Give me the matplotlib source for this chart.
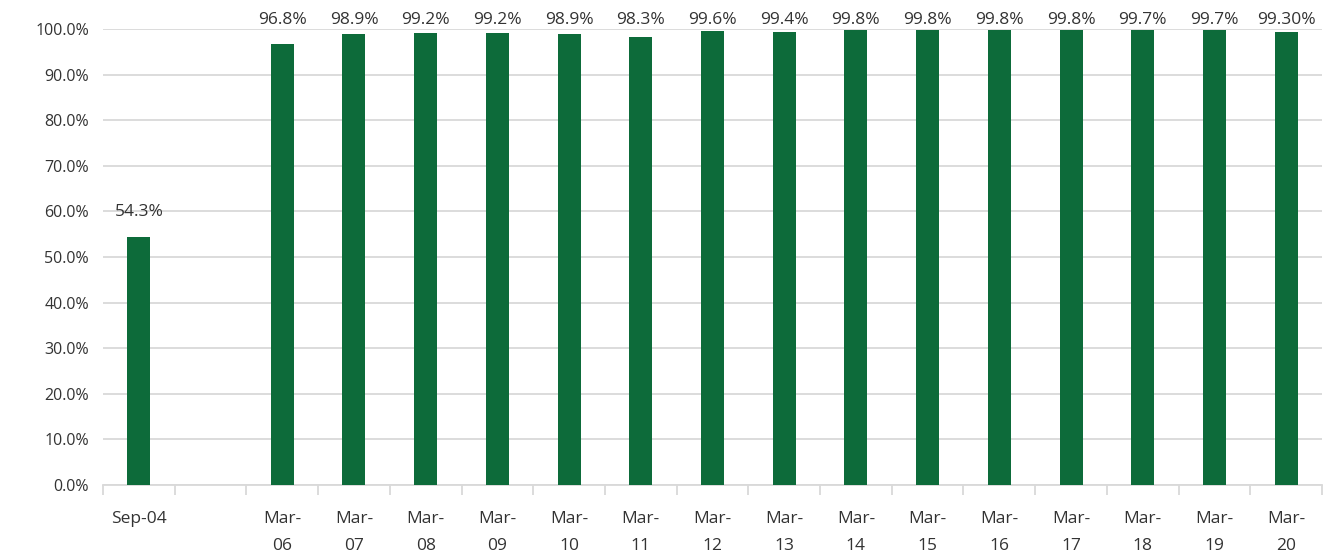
import numpy as np
from matplotlib import pyplot as plt

categories = ['Sep-04', '', 'Mar-\n06', 'Mar-\n07', 'Mar-\n08', 'Mar-\n09', 'Mar-\n10',
              'Mar-\n11', 'Mar-\n12', 'Mar-\n13', 'Mar-\n14', 'Mar-\n15', 'Mar-\n16',
              'Mar-\n17', 'Mar-\n18', 'Mar-\n19', 'Mar-\n20']
values = [54.3, None, 96.8, 98.9, 99.2, 99.2, 98.9, 98.3, 99.6, 99.4, 99.8, 99.8,
          99.8, 99.8, 99.7, 99.7, 99.30]
labels = ['54.3%', '', '96.8%', '98.9%', '99.2%', '99.2%', '98.9%', '98.3%', '99.6%',
          '99.4%', '99.8%', '99.8%', '99.8%', '99.8%', '99.7%', '99.7%', '99.30%']

plt.rcParams['font.family'] = ['Open Sans', 'DejaVu Sans']
txt = '#333333'

fig = plt.figure(figsize=(13.23, 5.53), dpi=100)
ax = fig.add_axes([103/1323, 1-485/553, (1322-103)/1323, (485-29)/553])

x = np.arange(len(categories))
h = [v if v is not None else 0 for v in values]
bars = ax.bar(x, h, width=0.32, color='#0d6b3a', zorder=3)

# value labels above the bars, kept from running off the top of the chart
for xi, v, lab in zip(x, values, labels):
    if v is None:
        continue
    ax.text(xi, min(v + 5.5, 102), lab, ha='center', va='center',
            fontsize=12.5, color=txt, clip_on=False, zorder=4)

ax.set_xlim(-0.5, len(categories) - 0.5)
ax.set_ylim(0, 100)
ax.set_yticks(np.arange(0, 101, 10))
ax.set_yticklabels([f'{t:.1f}%' for t in range(0, 101, 10)], fontsize=11.5, color=txt)
ax.grid(axis='y', color='#d9d9d9', linewidth=1.3, zorder=0)

# category labels centred under bars, tick marks sit between categories
ax.set_xticks(x)
ax.set_xticklabels(categories, fontsize=12.5, color=txt, linespacing=1.9, va='top')
ax.tick_params(axis='x', length=0, pad=19)
ax.set_xticks(np.arange(-0.5, len(categories)), minor=True)
ax.tick_params(axis='x', which='minor', length=7, width=1.3, color='#d9d9d9')
ax.tick_params(axis='y', length=0, pad=10)

for s in ['top', 'right', 'left']:
    ax.spines[s].set_visible(False)
ax.spines['bottom'].set_color('#d9d9d9')
ax.spines['bottom'].set_linewidth(1.3)

plt.savefig('out.png', dpi=100)
